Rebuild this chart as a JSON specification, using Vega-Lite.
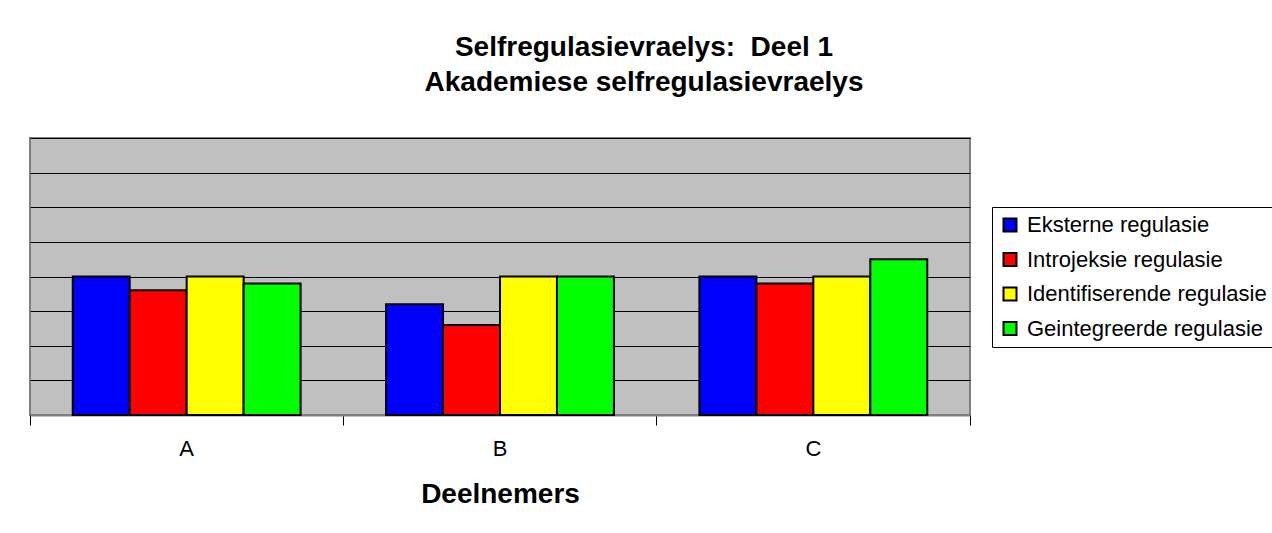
{
  "$schema": "https://vega.github.io/schema/vega-lite/v6.json",
  "autosize": "none",
  "width": 940,
  "height": 277,
  "padding": {"left": 30, "top": 138, "right": 302, "bottom": 118},
  "background": "white",
  "title": {
    "text": ["Selfregulasievraelys:\u00a0 Deel 1", "Akademiese selfregulasievraelys"],
    "font": "Liberation Sans",
    "fontSize": 28,
    "fontWeight": "bold",
    "color": "black",
    "lineHeight": 35,
    "anchor": "middle",
    "dx": 144,
    "offset": 41
  },
  "data": {
    "values": [
      {"deelnemer": "A", "regulasie": "Eksterne regulasie", "waarde": 4.0},
      {"deelnemer": "A", "regulasie": "Introjeksie regulasie", "waarde": 3.6},
      {"deelnemer": "A", "regulasie": "Identifiserende regulasie", "waarde": 4.0},
      {"deelnemer": "A", "regulasie": "Geintegreerde regulasie", "waarde": 3.8},
      {"deelnemer": "B", "regulasie": "Eksterne regulasie", "waarde": 3.2},
      {"deelnemer": "B", "regulasie": "Introjeksie regulasie", "waarde": 2.6},
      {"deelnemer": "B", "regulasie": "Identifiserende regulasie", "waarde": 4.0},
      {"deelnemer": "B", "regulasie": "Geintegreerde regulasie", "waarde": 4.0},
      {"deelnemer": "C", "regulasie": "Eksterne regulasie", "waarde": 4.0},
      {"deelnemer": "C", "regulasie": "Introjeksie regulasie", "waarde": 3.8},
      {"deelnemer": "C", "regulasie": "Identifiserende regulasie", "waarde": 4.0},
      {"deelnemer": "C", "regulasie": "Geintegreerde regulasie", "waarde": 4.5}
    ]
  },
  "mark": {"type": "bar", "stroke": "black", "strokeWidth": 2},
  "encoding": {
    "x": {
      "field": "deelnemer",
      "type": "nominal",
      "scale": {"paddingInner": 0, "paddingOuter": 0},
      "axis": {
        "title": "Deelnemers",
        "titleFont": "Liberation Sans",
        "titleFontSize": 28,
        "titleFontWeight": "bold",
        "titleColor": "black",
        "titlePadding": 21,
        "labelAngle": 0,
        "labelFont": "Liberation Sans",
        "labelFontSize": 22,
        "labelColor": "black",
        "labelPadding": 13,
        "bandPosition": 1,
        "tickExtra": true,
        "tickSize": 10,
        "tickColor": "black",
        "tickWidth": 1,
        "domainColor": "#808080",
        "domainWidth": 2,
        "grid": false
      }
    },
    "xOffset": {
      "field": "regulasie",
      "type": "nominal",
      "sort": ["Eksterne regulasie", "Introjeksie regulasie", "Identifiserende regulasie", "Geintegreerde regulasie"],
      "scale": {"paddingInner": 0, "paddingOuter": 0.75}
    },
    "y": {
      "field": "waarde",
      "type": "quantitative",
      "scale": {"domain": [0, 8], "nice": false, "zero": true},
      "axis": {
        "title": null,
        "labels": false,
        "ticks": false,
        "domain": false,
        "grid": true,
        "gridColor": "black",
        "gridWidth": 1,
        "gridOpacity": 1,
        "tickCount": 8
      }
    },
    "color": {
      "field": "regulasie",
      "type": "nominal",
      "sort": ["Eksterne regulasie", "Introjeksie regulasie", "Identifiserende regulasie", "Geintegreerde regulasie"],
      "scale": {
        "domain": ["Eksterne regulasie", "Introjeksie regulasie", "Identifiserende regulasie", "Geintegreerde regulasie"],
        "range": ["#0000FF", "#FF0000", "#FFFF00", "#00FF00"]
      },
      "legend": {
        "title": null,
        "orient": "none",
        "legendX": 962,
        "legendY": 69,
        "strokeColor": "black",
        "fillColor": "white",
        "padding": 7,
        "symbolType": "square",
        "symbolSize": 169,
        "symbolStrokeColor": "black",
        "symbolStrokeWidth": 2,
        "symbolOpacity": 1,
        "labelFont": "Liberation Sans",
        "labelFontSize": 22,
        "labelColor": "black",
        "labelOffset": 6,
        "rowPadding": 12.5,
        "labelLimit": 400
      }
    }
  },
  "config": {
    "view": {"fill": "#C0C0C0", "stroke": "#808080", "strokeWidth": 2},
    "axis": {"labelFlush": false}
  }
}
